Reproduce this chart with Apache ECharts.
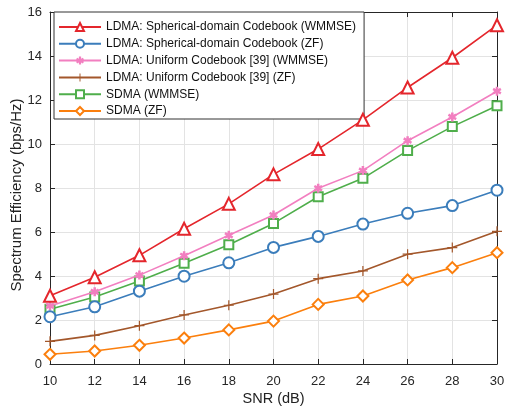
<!DOCTYPE html>
<html><head><meta charset="utf-8">
<script src="https://cdn.jsdelivr.net/npm/echarts@6/dist/echarts.min.js"></script>
<style>html,body{margin:0;padding:0;background:#fff}#c{width:508px;height:407px}</style>
</head><body><div id="c"></div>
<script>
const snr = [10,12,14,16,18,20,22,24,26,28,30];
const seriesNames = [
  'LDMA: Spherical-domain Codebook (WMMSE)',
  'LDMA: Spherical-domain Codebook (ZF)',
  'LDMA: Uniform Codebook [39] (WMMSE)',
  'LDMA: Uniform Codebook [39] (ZF)',
  'SDMA (WMMSE)',
  'SDMA (ZF)'
];
const ldmaSphWmmse = [3.1,3.94,4.94,6.15,7.28,8.62,9.77,11.1,12.57,13.92,15.4];
const ldmaSphZf    = [2.15,2.6,3.31,3.99,4.6,5.3,5.8,6.36,6.85,7.2,7.9];
const ldmaUniWmmse = [2.64,3.28,4.04,4.92,5.85,6.77,7.99,8.79,10.15,11.23,12.4];
const ldmaUniZf    = [1.03,1.3,1.74,2.23,2.67,3.18,3.88,4.23,4.99,5.29,6.03];
const sdmaWmmse    = [2.49,3.05,3.77,4.58,5.42,6.39,7.6,8.44,9.7,10.79,11.74];
const sdmaZf       = [0.44,0.59,0.85,1.18,1.55,1.95,2.71,3.09,3.82,4.38,5.06];
const xTicks = [10,12,14,16,18,20,22,24,26,28,30];
const yTicks = [0,2,4,6,8,10,12,14,16];

const allData = [ldmaSphWmmse, ldmaSphZf, ldmaUniWmmse, ldmaUniZf, sdmaWmmse, sdmaZf];
const colors = ['#e4262c','#3b7dbb','#f27fc0','#a3572b','#4fae4b','#fb7f0d'];
const asterisk = 'path://M3.6,0h2.8v2.6l2.2-1.3 1.4,2.4-2.2,1.3 2.2,1.3-1.4,2.4-2.2-1.3V10h-2.8V7.4l-2.2,1.3-1.4-2.4 2.2-1.3-2.2-1.3 1.4-2.4 2.2,1.3z';
const plus = 'path://M4.4,0h1.2v4.4H10v1.2H5.6V10H4.4V5.6H0V4.4h4.4z';
const symbols = ['emptyTriangle','emptyCircle',asterisk,plus,'emptyRect','emptyDiamond'];
const sizes = [12,11,9,10,9,11];

const font = 'Liberation Sans, Arial, Helvetica, sans-serif';
const chart = echarts.init(document.getElementById('c'));
const series = allData.map((d,i)=>({
  name: seriesNames[i],
  type: 'line',
  data: snr.map((x,j)=>[x,d[j]]),
  symbol: symbols[i],
  symbolSize: sizes[i],
  showAllSymbol: true,
  lineStyle: {width: 1.6, color: colors[i]},
  itemStyle: {color: colors[i], borderWidth: 1.6},
  emphasis: {disabled: true},
  z: 10 - i
}));
chart.setOption({
  animation: false,
  backgroundColor: '#fff',
  color: colors,
  grid: {left: 50, right: 11, top: 12, bottom: 43, containLabel: false, outerBoundsMode: 'none'},
  legend: {
    orient: 'vertical', left: 54, top: 12,
    data: seriesNames,
    backgroundColor: '#fff', borderColor: '#333', borderWidth: 1,
    padding: [9, 8, 2, 4],
    itemWidth: 42, itemHeight: 10, itemGap: 4.8,
    textStyle: {fontFamily: font, fontSize: 12, color: '#111'},
    inactiveColor: '#ccc'
  },
  xAxis: [{
    type: 'value', min: 10, max: 30, interval: 2,
    name: 'SNR (dB)', nameLocation: 'middle', nameGap: 27, nameMoveOverlap: false,
    nameTextStyle: {fontFamily: font, fontSize: 14.5, color: '#222'},
    axisLine: {show: true, lineStyle: {color: '#262626', width: 1}},
    axisTick: {show: true, inside: true, length: 5, lineStyle: {color: '#262626'}},
    axisLabel: {fontFamily: font, fontSize: 13, color: '#262626', margin: 11,
      formatter: v => xTicks.includes(v) ? String(v) : ''},
    splitLine: {show: true, lineStyle: {color: '#e3e3e3', width: 1}}
  },{
    type: 'value', min: 10, max: 30, interval: 2, position: 'top',
    axisLine: {show: true, onZero: false, lineStyle: {color: '#262626', width: 1}},
    axisTick: {show: true, inside: true, length: 5, lineStyle: {color: '#262626'}},
    axisLabel: {show: false}, splitLine: {show: false}
  }],
  yAxis: [{
    type: 'value', min: 0, max: 16, interval: 2,
    name: 'Spectrum Efficiency (bps/Hz)', nameLocation: 'middle', nameGap: 26, nameMoveOverlap: false,
    nameTextStyle: {fontFamily: font, fontSize: 15, color: '#222', padding: [0, 14, 0, 0]},
    axisLine: {show: true, lineStyle: {color: '#262626', width: 1}},
    axisTick: {show: true, inside: true, length: 5, lineStyle: {color: '#262626'}},
    axisLabel: {fontFamily: font, fontSize: 13, color: '#262626', margin: 8,
      formatter: v => yTicks.includes(v) ? String(v) : ''},
    splitLine: {show: true, lineStyle: {color: '#e3e3e3', width: 1}}
  },{
    type: 'value', min: 0, max: 16, interval: 2, position: 'right',
    axisLine: {show: true, onZero: false, lineStyle: {color: '#262626', width: 1}},
    axisTick: {show: true, inside: true, length: 5, lineStyle: {color: '#262626'}},
    axisLabel: {show: false}, splitLine: {show: false}
  }],
  series: series
});
</script></body></html>
